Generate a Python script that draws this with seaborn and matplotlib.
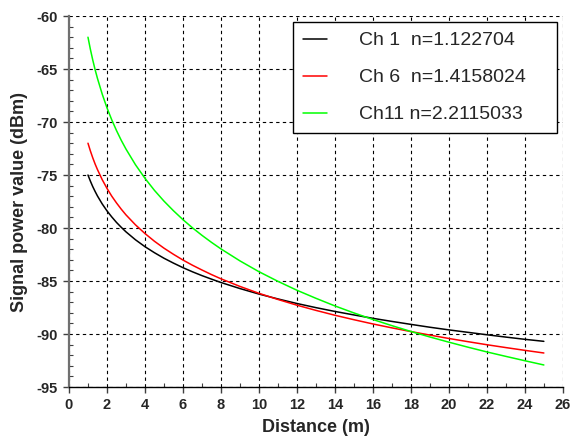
import matplotlib
matplotlib.use("Agg")
import matplotlib.pyplot as plt
from matplotlib.ticker import MultipleLocator
from matplotlib.lines import Line2D
import seaborn as sns
import pandas as pd

distance = [1, 1.125, 1.25, 1.375, 1.5, 1.75, 2, 2.25, 2.5, 2.75, 3, 3.5, 4, 4.5,
            5, 5.5, 6, 6.5, 7, 7.5, 8, 9, 10, 11, 12, 13, 14, 15,
            16, 17, 18, 19, 20, 21, 22, 23, 24, 25]
ch1 = [-75.00, -75.57, -76.09, -76.55, -76.98, -77.73, -78.38, -78.95, -79.47, -79.93,
       -80.36, -81.11, -81.76, -82.33, -82.85, -83.31, -83.74, -84.13, -84.49, -84.82,
       -85.14, -85.71, -86.23, -86.69, -87.12, -87.51, -87.87, -88.20,
       -88.52, -88.81, -89.09, -89.36, -89.61, -89.84, -90.07, -90.29, -90.50, -90.69]
ch6 = [-72.00, -72.72, -73.37, -73.96, -74.49, -75.44, -76.26, -76.99, -77.63, -78.22,
       -78.76, -79.70, -80.52, -81.25, -81.90, -82.48, -83.02, -83.51, -83.96, -84.39,
       -84.79, -85.51, -86.16, -86.74, -87.28, -87.77, -88.23, -88.65,
       -89.05, -89.42, -89.77, -90.10, -90.42, -90.72, -91.01, -91.28, -91.54, -91.79]
ch11 = [-62.00, -63.13, -64.14, -65.06, -65.89, -67.37, -68.66, -69.79, -70.80, -71.72,
        -72.55, -74.03, -75.31, -76.45, -77.46, -78.37, -79.21, -79.98, -80.69, -81.35,
        -81.97, -83.10, -84.12, -85.03, -85.87, -86.63, -87.35, -88.01,
        -88.63, -89.21, -89.76, -90.28, -90.77, -91.24, -91.69, -92.11, -92.52, -92.92]
labels = ["Ch 1  n=1.122704", "Ch 6  n=1.4158024", "Ch11 n=2.2115033"]
colors = ["#000000", "#ff0000", "#00ff00"]

rows = []
for lab, vals in zip(labels, [ch1, ch6, ch11]):
    for d, v in zip(distance, vals):
        rows.append({"Distance": d, "Signal": v, "Channel": lab})
df = pd.DataFrame(rows)

sns.set_style("white")
plt.rcParams["font.family"] = ["Liberation Sans", "DejaVu Sans"]
plt.rcParams["axes.unicode_minus"] = False

fig = plt.figure(figsize=(5.72, 4.41), dpi=100)
ax = fig.add_axes([0.1206, 0.1224, 0.8634, 0.8413])

sns.lineplot(data=df, x="Distance", y="Signal", hue="Channel",
             palette=dict(zip(labels, colors)), linewidth=1.1, ax=ax,
             legend=False)

ax.set_xlim(0, 26)
ax.set_ylim(-95, -60)
ax.xaxis.set_major_locator(MultipleLocator(2))
ax.xaxis.set_minor_locator(MultipleLocator(1))
ax.yaxis.set_major_locator(MultipleLocator(5))
ax.yaxis.set_minor_locator(MultipleLocator(1))
ax.grid(True, which="major", color="black", linestyle=(0, (3, 3)), linewidth=0.8)
ax.set_axisbelow(True)

for s in ["top", "right"]:
    ax.spines[s].set_visible(False)
ax.spines["left"].set_color("#707070")
ax.spines["left"].set_linewidth(1.6)
ax.spines["bottom"].set_color("black")
ax.spines["bottom"].set_linewidth(1.0)

ax.tick_params(which="major", direction="out", length=4, width=1,
               labelsize=10.5, bottom=True, left=True, color="#404040", pad=4)
ax.tick_params(which="minor", direction="in", length=3, width=0.8,
               bottom=True, left=True, color="#404040")
for t in ax.get_xticklabels() + ax.get_yticklabels():
    t.set_fontweight("bold")

ax.set_xlabel("Distance (m)", fontsize=13, fontweight="bold", labelpad=5)
ax.set_ylabel("Signal power value (dBm)", fontsize=13, fontweight="bold", labelpad=6)

handles = [Line2D([], [], color=c, linewidth=1.1) for c in colors]
leg = ax.legend(handles, labels, loc="upper left",
                bbox_to_anchor=(0.4534, 0.5, 0.5344, 0.4838), mode="expand",
                fontsize=14, frameon=True, fancybox=False, framealpha=1,
                edgecolor="black", handlelength=1.24, handletextpad=1.65,
                labelspacing=1.0, borderpad=0.5, borderaxespad=0)
leg.get_frame().set_linewidth(1.0)

fig.savefig("out.png", dpi=100)
